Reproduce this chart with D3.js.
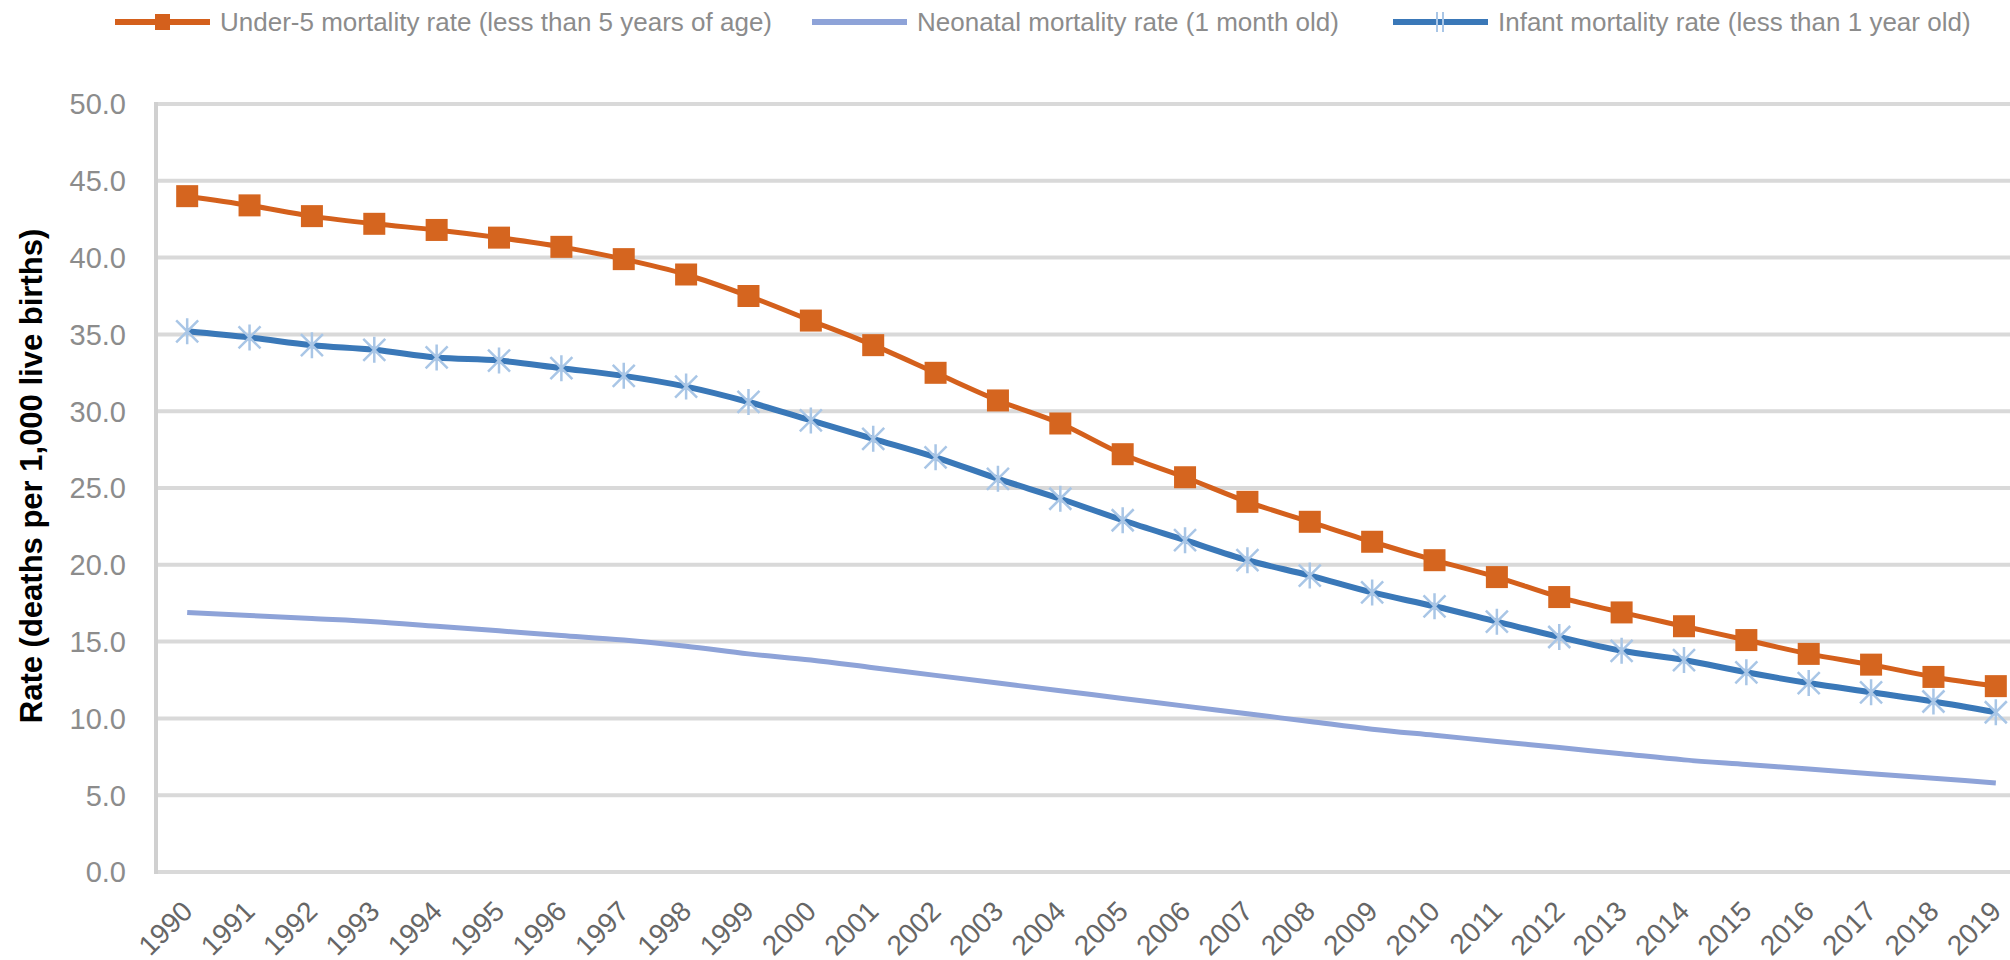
<!DOCTYPE html>
<meta charset="utf-8">
<script src="https://d3js.org/d3.v7.min.js"></script>
<style>
  body { margin: 0; background: #fff; }
  svg { display: block; font-family: 'Liberation Sans', Arial, sans-serif; }
</style>
<body>
<div id="chart"></div>
<script>
// data
var years = d3.range(1990, 2020).map(String);
var under5 = [44.0, 43.4, 42.7, 42.2, 41.8, 41.3, 40.7, 39.9, 38.9, 37.5,
              35.9, 34.3, 32.5, 30.7, 29.2, 27.2, 25.7, 24.1, 22.8, 21.5,
              20.3, 19.2, 17.9, 16.9, 16.0, 15.1, 14.2, 13.5, 12.7, 12.1];
var neonatal = [16.9, 16.7, 16.5, 16.3, 16.0, 15.7, 15.4, 15.1, 14.7, 14.2,
                13.8, 13.3, 12.8, 12.3, 11.8, 11.3, 10.8, 10.3, 9.8, 9.3,
                8.9, 8.5, 8.1, 7.7, 7.3, 7.0, 6.7, 6.4, 6.1, 5.8];
var infant = [35.2, 34.8, 34.3, 34.0, 33.5, 33.3, 32.8, 32.3, 31.6, 30.6,
              29.4, 28.2, 27.0, 25.6, 24.3, 22.9, 21.6, 20.3, 19.3, 18.2,
              17.3, 16.3, 15.3, 14.4, 13.8, 13.0, 12.3, 11.7, 11.1, 10.4];
var yTicks = d3.range(0, 51, 5);
var seriesNames = ["Under-5 mortality rate (less than 5 years of age)",
                   "Neonatal mortality rate (1 month old)",
                   "Infant mortality rate (less than 1 year old)"];

var W = 2010, H = 960;
var plotLeft = 156, plotRight = 2027, plotTop = 104, plotBottom = 872;

var svg = d3.select("#chart").append("svg")
  .attr("width", W).attr("height", H);

var x = d3.scaleBand().domain(years).range([plotLeft, plotRight]).padding(0);
var xc = function(d) { return x(d) + x.bandwidth() / 2; };
var y = d3.scaleLinear().domain([0, 50]).range([plotBottom, plotTop]);

// gridlines
svg.append("g").selectAll("line")
  .data(yTicks)
  .enter().append("line")
    .attr("x1", plotLeft).attr("x2", W)
    .attr("y1", function(d) { return y(d); })
    .attr("y2", function(d) { return y(d); })
    .attr("stroke", "#d9d9d9")
    .attr("stroke-width", 4);

// left axis line
svg.append("line")
  .attr("x1", plotLeft).attr("x2", plotLeft)
  .attr("y1", y(50) - 2).attr("y2", y(0) + 2)
  .attr("stroke", "#d0d0d0").attr("stroke-width", 4);

// y tick labels
svg.append("g").selectAll("text")
  .data(yTicks)
  .enter().append("text")
    .attr("x", 126)
    .attr("y", function(d) { return y(d); })
    .attr("dy", "0.36em")
    .attr("text-anchor", "end")
    .attr("fill", "#8c8c8c")
    .style("font-size", "29px")
    .text(function(d) { return d.toFixed(1); });

// x tick labels
svg.append("g").selectAll("text")
  .data(years)
  .enter().append("text")
    .attr("transform", function(d) { return "translate(" + (xc(d) + 7) + ",913)rotate(-45)"; })
    .attr("text-anchor", "end")
    .attr("fill", "#666")
    .style("font-size", "28px")
    .text(function(d) { return d; });

// y axis title
svg.append("text")
  .attr("transform", "translate(31,476)rotate(-90)")
  .attr("dy", "0.36em")
  .attr("text-anchor", "middle")
  .attr("fill", "#000")
  .style("font-size", "31px")
  .style("font-weight", "bold")
  .text("Rate (deaths per 1,000 live births)");

var line = d3.line()
  .x(function(d, i) { return xc(years[i]); })
  .y(function(d) { return y(d); })
  .curve(d3.curveMonotoneX);

// neonatal
svg.append("path").datum(neonatal)
  .attr("d", line)
  .attr("fill", "none")
  .attr("stroke", "#8ea3d8")
  .attr("stroke-width", 5);

// infant
svg.append("path").datum(infant)
  .attr("d", line)
  .attr("fill", "none")
  .attr("stroke", "#3a78b8")
  .attr("stroke-width", 6);

var star = "M0,-13V13M-11,-11L11,11M-11,11L11,-11";
svg.append("g").selectAll("path")
  .data(infant)
  .enter().append("path")
    .attr("transform", function(d, i) { return "translate(" + xc(years[i]) + "," + y(d) + ")"; })
    .attr("d", star)
    .attr("stroke", "#a9c6e6")
    .attr("stroke-width", 2.5)
    .attr("fill", "none");

// under-5
svg.append("path").datum(under5)
  .attr("d", line)
  .attr("fill", "none")
  .attr("stroke", "#d4601c")
  .attr("stroke-width", 5);

svg.append("g").selectAll("rect")
  .data(under5)
  .enter().append("rect")
    .attr("x", function(d, i) { return xc(years[i]) - 11; })
    .attr("y", function(d) { return y(d) - 11; })
    .attr("width", 22).attr("height", 22)
    .attr("fill", "#d5651f");

// legend
var legX = [115, 812, 1393];
var legColors = ["#d4601c", "#8ea3d8", "#3a78b8"];
var legY = 22;
var leg = svg.append("g");
legX.forEach(function(lx, i) {
  leg.append("line")
    .attr("x1", lx).attr("x2", lx + 95)
    .attr("y1", legY).attr("y2", legY)
    .attr("stroke", legColors[i]).attr("stroke-width", 6);
  if (i == 0) {
    leg.append("rect").attr("x", lx + 40).attr("y", legY - 8)
      .attr("width", 15).attr("height", 16).attr("fill", "#d4601c");
  }
  if (i == 2) {
    leg.append("path").attr("transform", "translate(" + (lx + 47) + "," + legY + ")")
      .attr("d", "M-3,-10V10M3,-10V10")
      .attr("stroke", "#a9c6e6").attr("stroke-width", 2);
  }
  leg.append("text")
    .attr("x", lx + 105).attr("y", legY)
    .attr("dy", "0.36em")
    .attr("fill", "#8c8c8c")
    .style("font-size", "26px")
    .text(seriesNames[i]);
});
</script>
</body>
